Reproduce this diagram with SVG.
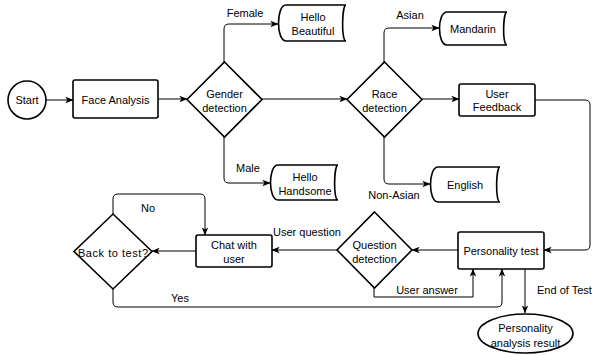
<svg xmlns="http://www.w3.org/2000/svg" width="594" height="355" viewBox="0 0 594 355">
<defs>
<marker id="arr" viewBox="0 0 10 10" refX="9.5" refY="5" markerWidth="8" markerHeight="8" orient="auto" markerUnits="userSpaceOnUse">
<path d="M0,1 L10,5 L0,9 L2.5,5 Z" fill="#000"/>
</marker>
<style>
.n{fill:#fff;stroke:#000;stroke-width:1.6}
.c{fill:none;stroke:#000;stroke-width:1}
.a{marker-end:url(#arr)}
text{font-family:"Liberation Sans",Arial,sans-serif;font-size:11px;fill:#000;text-anchor:middle;dominant-baseline:central}
</style>
</defs>
<rect width="594" height="355" fill="#fff"/>
<g id="connectors">
<path class="c a" d="M46,100 H73"/>
<path class="c a" d="M158,99 H187"/>
<path class="c a" d="M224,62 V29 Q224,24 229,24 H278"/>
<path class="c a" d="M224,137 V178 Q224,183 229,183 H270"/>
<path class="c a" d="M262,99 H347"/>
<path class="c a" d="M384,62 V33 Q384,28 389,28 H439"/>
<path class="c a" d="M422,99 H459"/>
<path class="c a" d="M384,137 V179 Q384,184 389,184 H430"/>
<path class="c a" d="M535,100 H585 Q590,100 590,105 V245 Q590,250 585,250 H544"/>
<path class="c a" d="M458,250 H412"/>
<path class="c a" d="M374,288 V297 H473 V269"/>
<path class="c a" d="M337,250 H272"/>
<path class="c a" d="M196,251 H152"/>
<path class="c a" d="M113,214 V199 Q113,194 118,194 H200 Q205,194 205,199 V235"/>
<path class="c a" d="M113,289 V302 Q113,307 118,307 H497 Q502,307 502,302 V269"/>
<path class="c a" d="M525,269 V313"/>
<text x="245" y="13">Female</text>
<text x="248" y="168">Male</text>
<text x="410" y="15">Asian</text>
<text x="394" y="195">Non-Asian</text>
<text x="307" y="232">User question</text>
<text x="427" y="290">User answer</text>
<text x="148" y="208">No</text>
<text x="180" y="298">Yes</text>
<text x="537" y="290" style="text-anchor:start">End of Test</text>
</g>
<g id="start">
<circle class="n" cx="27" cy="100" r="19"/>
<text x="27" y="100">Start</text>
</g>
<g id="face">
<rect class="n" x="73" y="80" width="85" height="38" rx="2"/>
<text x="115.5" y="100">Face Analysis</text>
</g>
<g id="gender">
<path class="n" d="M224.5,62 L262,99.5 L224.5,137 L187,99.5 Z"/>
<text x="224.5" y="94">Gender</text>
<text x="224.5" y="108">detection</text>
</g>
<g id="beautiful">
<path class="n" d="M286,5 H346 C342,5 341,41 346,41 H286 C276,41 276,5 286,5 Z"/>
<text x="313" y="17">Hello</text>
<text x="313" y="31">Beautiful</text>
</g>
<g id="handsome">
<path class="n" d="M278,165 H338 C334,165 333,200 338,200 H278 C268,200 268,165 278,165 Z"/>
<text x="305" y="177">Hello</text>
<text x="305" y="191">Handsome</text>
</g>
<g id="race">
<path class="n" d="M384.5,62 L422,99.5 L384.5,137 L347,99.5 Z"/>
<text x="384.5" y="94">Race</text>
<text x="384.5" y="108">detection</text>
</g>
<g id="mandarin">
<path class="n" d="M447,12 H507 C503,12 502,45 507,45 H447 C437,45 437,12 447,12 Z"/>
<text x="473" y="29">Mandarin</text>
</g>
<g id="feedback">
<rect class="n" x="459" y="84" width="76" height="32" rx="2"/>
<text x="497" y="94">User</text>
<text x="497" y="107">Feedback</text>
</g>
<g id="english">
<path class="n" d="M438,167 H500 C496,167 495,202 500,202 H438 C428,202 428,167 438,167 Z"/>
<text x="465" y="185">English</text>
</g>
<g id="personality">
<rect class="n" x="458" y="232" width="86" height="37" rx="2"/>
<text x="501" y="251">Personality test</text>
</g>
<g id="question">
<path class="n" d="M374.5,212 L412,250 L374.5,288 L337,250 Z"/>
<text x="374.5" y="245">Question</text>
<text x="374.5" y="259">detection</text>
</g>
<g id="chat">
<rect class="n" x="196" y="235" width="76" height="32" rx="2"/>
<text x="234" y="245">Chat with</text>
<text x="234" y="259">user</text>
</g>
<g id="back">
<path class="n" d="M113,214 L152,251.5 L113,289 L74,251.5 Z"/>
<text x="113" y="253" textLength="70" lengthAdjust="spacing">Back to test?</text>
</g>
<g id="result">
<ellipse class="n" cx="525.5" cy="333.5" rx="47.5" ry="19.5"/>
<text x="525.5" y="328">Personality</text>
<text x="525.5" y="343">analysis result</text>
</g>
</svg>
